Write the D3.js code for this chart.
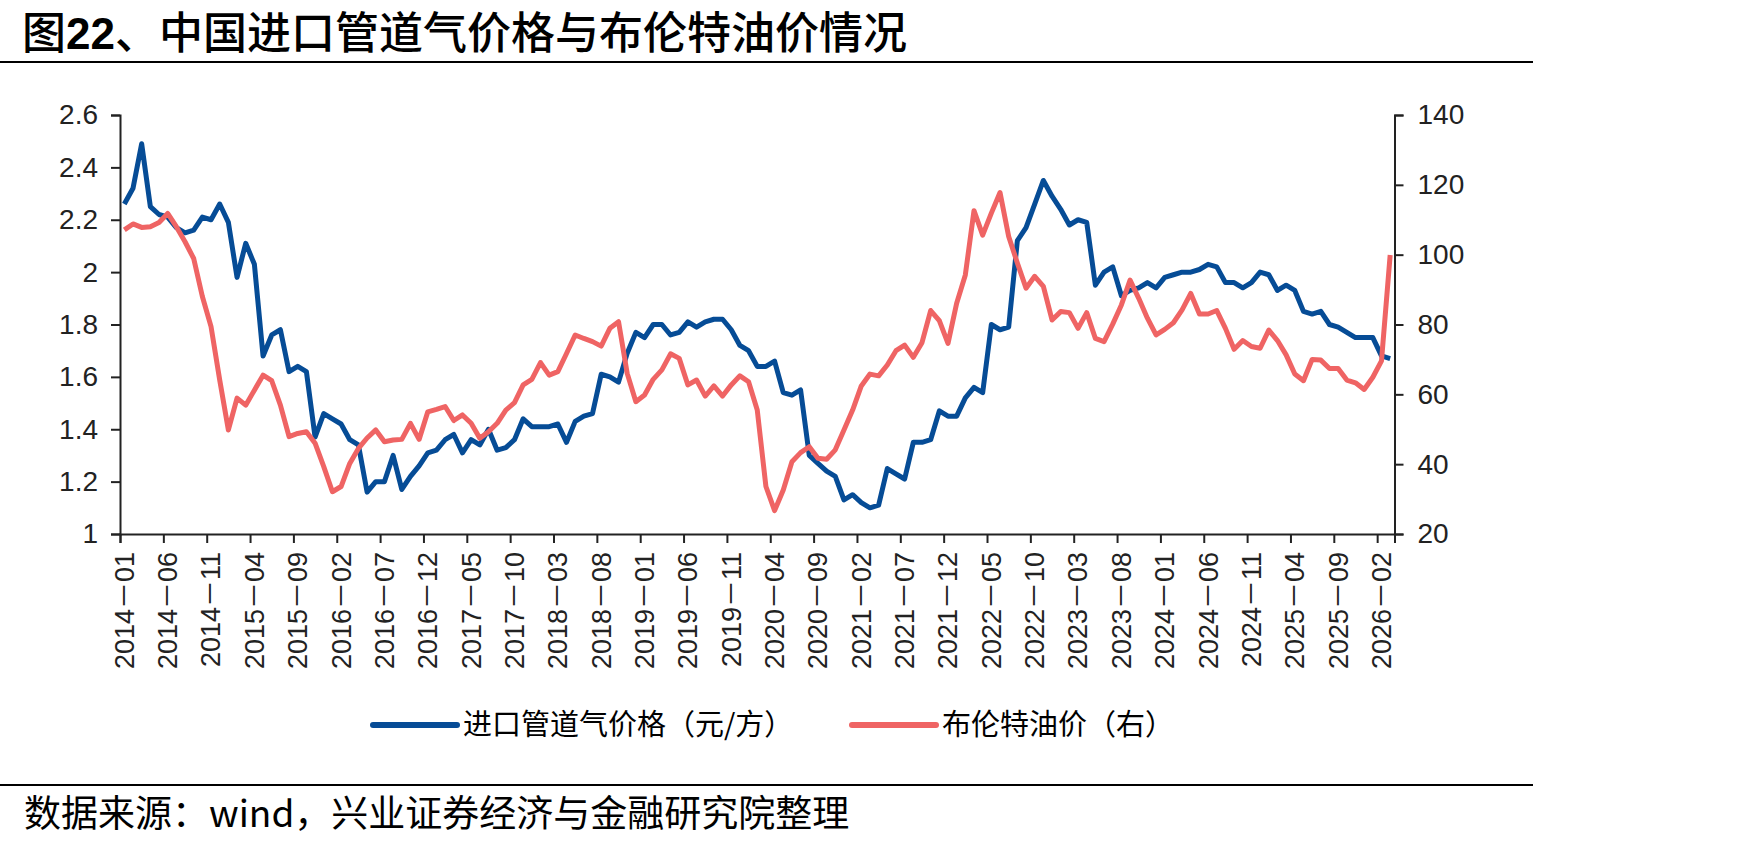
<!DOCTYPE html>
<html>
<head>
<meta charset="utf-8">
<script src="https://cdn.jsdelivr.net/npm/d3@7"></script>
<style>
  body { margin: 0; background: #fff; }
  svg text { font-family: "Liberation Sans", Arial, "Noto Sans CJK SC", sans-serif; }
  .cjk { font-family: "Noto Sans CJK SC", sans-serif; }
</style>
</head>
<body>
<svg id="chart" width="1748" height="846"></svg>
<script>
// monthly, 2014-01 .. 2026-03
var startMonth = new Date(2014, 0, 1);
var tickLabels = ["2014-01","2014-06","2014-11","2015-04","2015-09","2016-02","2016-07","2016-12",
  "2017-05","2017-10","2018-03","2018-08","2019-01","2019-06","2019-11","2020-04","2020-09",
  "2021-02","2021-07","2021-12","2022-05","2022-10","2023-03","2023-08","2024-01","2024-06",
  "2024-11","2025-04","2025-09","2026-02"];

// 进口管道气价格（元/方）
var gasPrice = [
  2.26,2.32,2.49,2.25,2.22,2.21,2.17,2.15,2.16,2.21,2.20,2.26,2.19,1.98,2.11,2.03,1.68,1.76,1.78,1.62,
  1.64,1.62,1.37,1.46,1.44,1.42,1.36,1.34,1.16,1.20,1.20,1.30,1.17,1.22,1.26,1.31,1.32,1.36,1.38,1.31,
  1.36,1.34,1.40,1.32,1.33,1.36,1.44,1.41,1.41,1.41,1.42,1.35,1.43,1.45,1.46,1.61,1.60,1.58,1.69,1.77,
  1.75,1.80,1.80,1.76,1.77,1.81,1.79,1.81,1.82,1.82,1.78,1.72,1.70,1.64,1.64,1.66,1.54,1.53,1.55,1.30,
  1.27,1.24,1.22,1.13,1.15,1.12,1.10,1.11,1.25,1.23,1.21,1.35,1.35,1.36,1.47,1.45,1.45,1.52,1.56,1.54,
  1.80,1.78,1.79,2.12,2.17,2.26,2.35,2.29,2.24,2.18,2.20,2.19,1.95,2.00,2.02,1.91,1.93,1.94,1.96,1.94,
  1.98,1.99,2.00,2.00,2.01,2.03,2.02,1.96,1.96,1.94,1.96,2.00,1.99,1.93,1.95,1.93,1.85,1.84,1.85,1.80,
  1.79,1.77,1.75,1.75,1.75,1.68,1.67
];

// 布伦特油价（右）
var brent = [
  107.1,108.8,107.8,108.0,109.2,111.8,108.0,103.7,98.9,88.0,79.4,64.1,49.8,58.9,56.9,61.2,65.5,63.9,56.9,47.9,
  48.8,49.3,46.0,39.3,32.1,33.6,40.2,44.5,47.5,49.8,46.4,46.9,47.1,51.7,47.1,55.0,55.7,56.5,52.5,54.1,
  51.7,47.4,49.3,51.7,55.5,57.6,62.7,64.3,69.1,65.5,66.5,71.7,77.0,76.0,75.1,73.8,78.9,80.8,66.0,57.9,
  59.8,64.3,67.0,71.6,70.3,62.7,64.1,59.5,62.4,59.5,62.7,65.3,63.6,55.5,33.6,26.7,32.6,40.7,43.3,45.0,
  41.7,41.4,44.1,49.8,55.5,62.4,65.8,65.3,68.4,72.5,74.1,70.6,74.8,84.0,81.1,74.6,86.1,94.2,112.6,105.6,
  111.9,117.8,105.2,97.6,90.4,93.8,90.9,81.3,83.7,83.4,78.9,83.4,76.0,75.1,80.1,85.6,92.7,87.5,81.8,77.0,
  78.6,80.5,84.2,88.9,83.0,83.0,84.0,78.9,72.9,75.4,73.7,73.2,78.4,75.4,71.3,65.8,63.9,70.0,69.8,67.4,
  67.4,64.1,63.3,61.4,64.9,69.6,99.9
];

var leftTicks = [1, 1.2, 1.4, 1.6, 1.8, 2, 2.2, 2.4, 2.6];
var rightTicks = [20, 40, 60, 80, 100, 120, 140];

(function() {
    var months = d3.timeMonth.range(startMonth, d3.timeMonth.offset(startMonth, gasPrice.length));
    var fmtMonth = d3.timeFormat("%Y-%m");

    var svg = d3.select("#chart");
    var plotLeft = 120, plotRight = 1394.5, plotTop = 115, plotBottom = 534;

    var x = d3.scaleLinear().domain([-0.5, months.length - 0.5]).range([plotLeft, plotRight]);
    var yL = d3.scaleLinear().domain([1, 2.6]).range([plotBottom, plotTop]);
    var yR = d3.scaleLinear().domain([20, 140]).range([plotBottom, plotTop]);

    // title + rules
    var title = svg.append("text").attr("class", "cjk")
        .attr("x", 22).attr("y", 49)
        .attr("font-size", 44).attr("font-weight", 500).attr("fill", "#000");
    title.append("tspan").text("图");
    title.append("tspan").attr("font-weight", 700).attr("font-family", "Liberation Sans, Arial").text("22");
    title.append("tspan").text("、中国进口管道气价格与布伦特油价情况");

    svg.append("line").attr("x1", 0).attr("x2", 1533).attr("y1", 62).attr("y2", 62)
        .attr("stroke", "#000").attr("stroke-width", 2);
    svg.append("line").attr("x1", 0).attr("x2", 1533).attr("y1", 785).attr("y2", 785)
        .attr("stroke", "#000").attr("stroke-width", 2);

    svg.append("text").attr("class", "cjk")
        .attr("x", 24).attr("y", 827)
        .attr("font-size", 37).attr("fill", "#000")
        .text("数据来源：wind，兴业证券经济与金融研究院整理");

    // axes
    var gL = svg.append("g").attr("transform", "translate(" + plotLeft + ",0)")
        .call(d3.axisLeft(yL).tickValues(leftTicks).tickSize(9).tickPadding(13)
            .tickFormat(d3.format("~g")));
    var gR = svg.append("g").attr("transform", "translate(" + plotRight + ",0)")
        .call(d3.axisRight(yR).tickValues(rightTicks).tickSize(9).tickPadding(14));

    var tickIdx = tickLabels.map(function(t) {
        return months.findIndex(function(m) { return fmtMonth(m) == t; });
    });
    var gX = svg.append("g").attr("transform", "translate(0," + plotBottom + ")")
        .call(d3.axisBottom(x).tickValues(tickIdx.map(function(i) { return i - 0.5; }))
            .tickSize(9).tickFormat(""));

    [gL, gR, gX].forEach(function(g) {
        g.select(".domain").attr("stroke", "#222").attr("stroke-width", 2);
        g.selectAll(".tick line").attr("stroke", "#222").attr("stroke-width", 2);
        g.selectAll("text").attr("font-size", 28).attr("fill", "#222")
            .attr("font-family", "Liberation Sans, Arial");
    });

    svg.append("g").selectAll("text")
        .data(tickIdx)
        .enter()
        .append("text")
        .attr("transform", function(i) { return "translate(" + x(i) + ",552) rotate(-90)"; })
        .attr("text-anchor", "end")
        .attr("dy", "0.35em")
        .attr("font-size", 27)
        .attr("fill", "#222")
        .text(function(i) { return fmtMonth(months[i]).replace("-", "－"); });

    // lines
    var lineL = d3.line().x(function(d, i) { return x(i); }).y(function(d) { return yL(d); });
    var lineR = d3.line().x(function(d, i) { return x(i); }).y(function(d) { return yR(d); });

    svg.append("path").attr("d", lineL(gasPrice))
        .attr("fill", "none").attr("stroke", "#064c96").attr("stroke-width", 5)
        .attr("stroke-linejoin", "round");
    svg.append("path").attr("d", lineR(brent))
        .attr("fill", "none").attr("stroke", "#ef6464").attr("stroke-width", 5)
        .attr("stroke-linejoin", "round");

    // legend
    var legend = [
        {name: "进口管道气价格（元/方）", color: "#064c96", x: 373},
        {name: "布伦特油价（右）", color: "#ef6464", x: 852}
    ];
    var lg = svg.append("g").selectAll("g").data(legend).enter().append("g")
        .attr("transform", function(d) { return "translate(" + d.x + ",725)"; });
    lg.append("line").attr("x1", 0).attr("x2", 84).attr("y1", 0).attr("y2", 0)
        .attr("stroke", function(d) { return d.color; })
        .attr("stroke-width", 6).attr("stroke-linecap", "round");
    lg.append("text").attr("class", "cjk")
        .attr("x", 90).attr("y", 10)
        .attr("font-size", 29).attr("fill", "#000")
        .text(function(d) { return d.name; });
})();
</script>
</body>
</html>
